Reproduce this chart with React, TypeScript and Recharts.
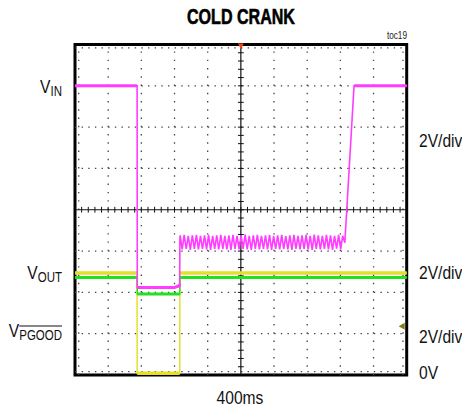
import React from 'react';
import { LineChart, Line, XAxis, YAxis, ReferenceLine, ReferenceArea, ReferenceDot } from 'recharts';

// time in ms (400ms/div, 10 div across), level in divisions above the bottom line (8 div high)
const timeTicksMs = [400, 800, 1200, 1600, 2400, 2800, 3200, 3600];
const levelTicksDiv = [1, 2, 3, 5, 6, 7];

const vinHead = [
  { t: 0, v: 7.0 },
  { t: 749, v: 7.0 },
  { t: 751, v: 2.12 },
  { t: 1200, v: 2.12 },
  { t: 1258, v: 2.16 },
  { t: 1262, v: 2.2 },
  { t: 1265, v: 3.3 },
];
const rippleStartMs = 1268;
const rippleStepMs = 24.5;
const rippleDiv = [
  3.38, 3.04, 3.39, 3.05, 3.37, 3.03, 3.38, 3.05, 3.39, 3.04,
  3.37, 3.05, 3.38, 3.04, 3.39, 3.03, 3.37, 3.05, 3.38, 3.04,
  3.39, 3.05, 3.37, 3.04, 3.38, 3.03, 3.39, 3.05, 3.37, 3.04,
  3.38, 3.05, 3.40, 3.04, 3.37, 3.03, 3.38, 3.05, 3.39, 3.04,
  3.37, 3.05, 3.38, 3.04, 3.39, 3.03, 3.37, 3.05, 3.38, 3.04,
  3.39, 3.05, 3.36, 3.04, 3.38, 3.03, 3.39, 3.05, 3.37, 3.04,
  3.38, 3.05, 3.39, 3.04, 3.37, 3.03, 3.40, 3.05, 3.38, 3.04,
  3.37, 3.05, 3.39, 3.04, 3.38, 3.03, 3.37, 3.06, 3.39, 3.04,
  3.37,
];
const vinTail = [
  { t: 3254, v: 3.2 },
  { t: 3365, v: 7.0 },
  { t: 4000, v: 7.0 },
];

const voutTrace = [
  { t: 0, v: 2.47 },
  { t: 748, v: 2.47 },
  { t: 750, v: 0.04 },
  { t: 1263, v: 0.04 },
  { t: 1265, v: 2.47 },
  { t: 4000, v: 2.47 },
];

const pgoodTrace = [
  { t: 0, v: 2.36 },
  { t: 750, v: 2.36 },
  { t: 752, v: 1.96 },
  { t: 1263, v: 1.96 },
  { t: 1265, v: 2.36 },
  { t: 4000, v: 2.36 },
];

const vinTrace = [
  ...vinHead,
  ...rippleDiv.map((v, i) => ({ t: rippleStartMs + i * rippleStepMs, v })),
  ...vinTail,
];

// keep only the flat stretches (scope traces look thicker there)
function flatParts(points: { t: number; v: number }[]) {
  const out: { t: number; v: number | null }[] = [];
  points.forEach((p, i) => {
    out.push(p);
    const next = points[i + 1];
    if (next && Math.abs(next.v - p.v) > 0.05) out.push({ t: (p.t + next.t) / 2, v: null });
  });
  return out;
}

const minorMs: number[] = [];
for (let t = 80; t < 4000; t += 80) minorMs.push(t);
const minorDiv: number[] = [];
for (let d = 0.2; d < 7.99; d += 0.2) minorDiv.push(Math.round(d * 10) / 10);

const PINK = '#ff3cff';
const YELLOW = '#e4e02a';
const GREEN = '#22e022';
const DOT = '#444';

const font = "'Liberation Sans', Arial, sans-serif";

type Align = 'left' | 'right' | 'center';
const label = (x: number, y: number, align: Align, extra: React.CSSProperties = {}): React.CSSProperties => ({
  position: 'absolute',
  left: align === 'left' ? x : align === 'right' ? x - 200 : x - 100,
  width: align === 'left' ? undefined : 200,
  top: y,
  textAlign: align,
  transform: 'translateY(-50%) scaleX(0.82)',
  transformOrigin: align === 'left' ? 'left center' : align === 'right' ? 'right center' : 'center center',
  fontFamily: font,
  fontSize: 19,
  lineHeight: 1,
  color: '#111',
  whiteSpace: 'nowrap',
  ...extra,
});

const Sub = ({ children, over }: { children: React.ReactNode; over?: boolean }) => (
  <span style={{ fontSize: 14, position: 'relative', top: 3, textDecoration: over ? 'overline' : 'none' }}>{children}</span>
);

export default function App() {
  return (
    <div style={{ position: 'absolute', left: 0, top: 0, width: 462, height: 409, background: '#fff', overflow: 'hidden' }}>
      <LineChart width={462} height={409} margin={{ top: 44.5, right: 55.3, bottom: 34, left: 75 }}>
        <XAxis dataKey="t" type="number" domain={[0, 4000]} hide />
        <YAxis type="number" domain={[0, 8]} hide />

        {levelTicksDiv.map((d) => (
          <ReferenceLine key={`h${d}`} y={d} stroke={DOT} strokeWidth={1.3} strokeDasharray="1.4 5.24" />
        ))}
        {timeTicksMs.map((t) => (
          <ReferenceLine key={`v${t}`} x={t} stroke={DOT} strokeWidth={1.3} strokeDasharray="1.4 6.86" />
        ))}
        <ReferenceLine y={7.92} stroke={DOT} strokeWidth={1.3} strokeDasharray="1.4 5.24" />
        <ReferenceLine y={0.08} stroke={DOT} strokeWidth={1.3} strokeDasharray="1.4 5.24" />
        <ReferenceLine x={45} stroke={DOT} strokeWidth={1.3} strokeDasharray="1.4 6.86" />
        <ReferenceLine x={3955} stroke={DOT} strokeWidth={1.3} strokeDasharray="1.4 6.86" />

        <ReferenceLine x={2000} stroke="#111" strokeWidth={1.2} />
        <ReferenceLine y={4} stroke="#111" strokeWidth={1.2} />
        {minorMs.map((t) => (
          <ReferenceLine key={`mx${t}`} segment={[{ x: t, y: 3.93 }, { x: t, y: 4.07 }]} stroke="#111" strokeWidth={1} />
        ))}
        {minorDiv.map((d) => (
          <ReferenceLine key={`my${d}`} segment={[{ x: 1965, y: d }, { x: 2035, y: d }]} stroke="#111" strokeWidth={1} />
        ))}

        <Line data={voutTrace} dataKey="v" type="linear" stroke={YELLOW} strokeWidth={1.5} dot={false} isAnimationActive={false} />
        <Line data={flatParts(voutTrace)} dataKey="v" type="linear" stroke={YELLOW} strokeWidth={3.5} dot={false} isAnimationActive={false} />
        <Line data={pgoodTrace} dataKey="v" type="linear" stroke={GREEN} strokeWidth={1.5} dot={false} isAnimationActive={false} />
        <Line data={flatParts(pgoodTrace)} dataKey="v" type="linear" stroke={GREEN} strokeWidth={3} dot={false} isAnimationActive={false} />
        <Line data={vinTrace} dataKey="v" type="linear" stroke={PINK} strokeWidth={1.6} dot={false} isAnimationActive={false} />
        <Line data={flatParts(vinTrace)} dataKey="v" type="linear" stroke={PINK} strokeWidth={3} dot={false} isAnimationActive={false} />

        <ReferenceArea x1={0} x2={4000} y1={0} y2={8} fill="none" stroke="#000" strokeWidth={3} />

        <ReferenceDot
          x={2000}
          y={8}
          r={3}
          shape={(p: any) => (
            <polygon points={`${p.cx - 3},${p.cy - 1} ${p.cx + 3},${p.cy - 1} ${p.cx},${p.cy + 4.5}`} fill="#ff4010" />
          )}
        />
        <ReferenceDot
          x={4000}
          y={1.18}
          r={3}
          shape={(p: any) => (
            <polygon points={`${p.cx - 8},${p.cy} ${p.cx - 2},${p.cy - 3.5} ${p.cx - 2},${p.cy + 3.5}`} fill="#857a10" />
          )}
        />
      </LineChart>

      <div
        style={label(241, 17.3, 'center', {
          fontSize: 22,
          fontWeight: 'bold',
          color: '#000',
          WebkitTextStroke: '0.6px #000',
          transform: 'translateY(-50%) scaleX(0.73)',
        })}
      >
        COLD CRANK
      </div>
      <div style={label(407, 36, 'right', { fontSize: 10, color: '#222' })}>toc19</div>

      <div style={label(62, 86, 'right')}>V<Sub>IN</Sub></div>
      <div style={label(62, 272, 'right')}>V<Sub>OUT</Sub></div>
      <div style={label(62, 330, 'right')}>V<Sub over>PGOOD</Sub></div>

      <div style={label(419, 140, 'left')}>2V/div</div>
      <div style={label(419, 272, 'left')}>2V/div</div>
      <div style={label(419, 336, 'left')}>2V/div</div>
      <div style={label(419, 372, 'left')}>0V</div>
      <div style={label(240, 397, 'center')}>400ms</div>
    </div>
  );
}
